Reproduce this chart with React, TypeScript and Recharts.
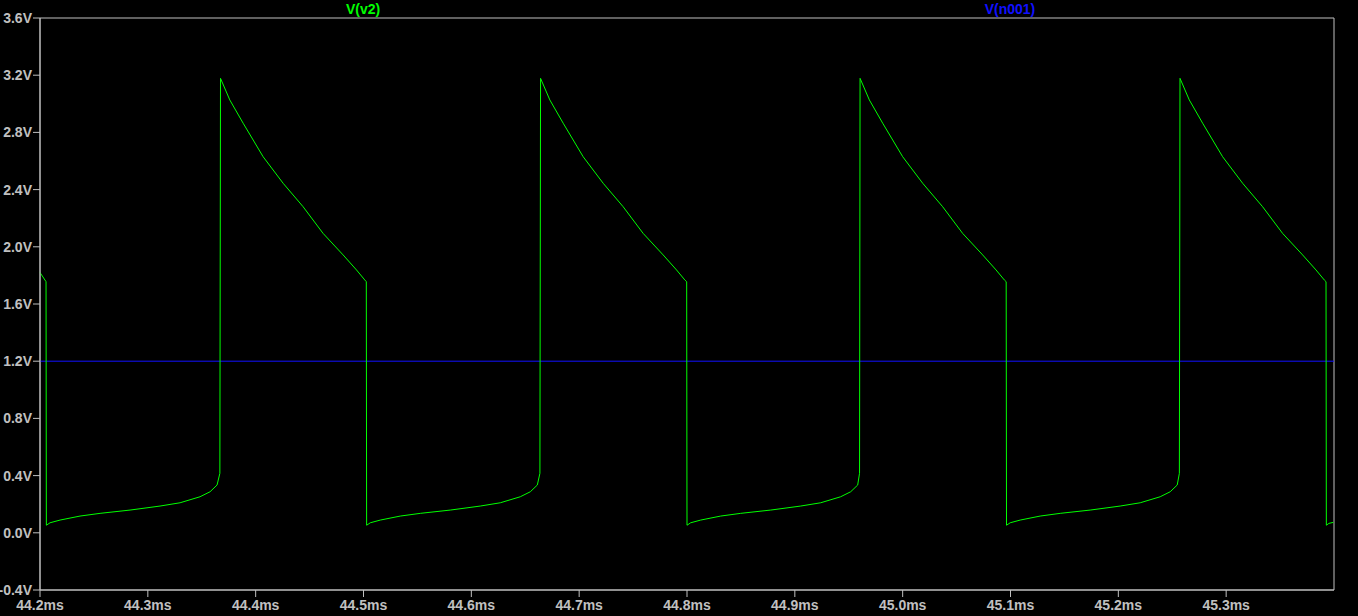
import { LineChart, Line, XAxis, YAxis, CartesianGrid } from "recharts";

// V(v2) transient, time in ms, volts
const v2Time = [
  44.2, 44.2056, 44.2059, 44.2093, 44.2186, 44.2371, 44.2557, 44.2835, 44.3113, 44.3299, 44.3484, 44.3577, 44.3642, 44.3668,
  44.3674, 44.376, 44.3884, 44.4069, 44.4255, 44.444, 44.4625, 44.4811, 44.4935, 44.5012, 44.5026,
  44.5029, 44.5063, 44.5156, 44.5341, 44.5527, 44.5805, 44.6083, 44.6269, 44.6454, 44.6547, 44.6612, 44.6636,
  44.6642, 44.6728, 44.6852, 44.7037, 44.7223, 44.7408, 44.7593, 44.7779, 44.7903, 44.798, 44.7997,
  44.8, 44.8034, 44.8127, 44.8312, 44.8498, 44.8776, 44.9054, 44.924, 44.9425, 44.9518, 44.9583, 44.96,
  44.9605, 44.9691, 44.9815, 45.0, 45.0186, 45.0371, 45.0556, 45.0742, 45.0866, 45.0943, 45.096,
  45.0963, 45.0997, 45.109, 45.1275, 45.1461, 45.1739, 45.2017, 45.2203, 45.2388, 45.2481, 45.2546, 45.2566,
  45.2572, 45.2658, 45.2782, 45.2967, 45.3153, 45.3338, 45.3523, 45.3709, 45.3833, 45.391, 45.3926,
  45.3929, 45.3953, 45.3994,
];
const v2Volts = [
  1.82, 1.756, 0.053, 0.07, 0.089, 0.117, 0.136, 0.159, 0.187, 0.21, 0.252, 0.287, 0.334, 0.416,
  3.178, 3.027, 2.864, 2.63, 2.444, 2.28, 2.094, 1.943, 1.838, 1.768, 1.756,
  0.053, 0.07, 0.089, 0.117, 0.136, 0.159, 0.187, 0.21, 0.252, 0.287, 0.334, 0.416,
  3.178, 3.027, 2.864, 2.63, 2.444, 2.28, 2.094, 1.943, 1.838, 1.768, 1.756,
  0.053, 0.07, 0.089, 0.117, 0.136, 0.159, 0.187, 0.21, 0.252, 0.287, 0.334, 0.416,
  3.178, 3.027, 2.864, 2.63, 2.444, 2.28, 2.094, 1.943, 1.838, 1.768, 1.756,
  0.053, 0.07, 0.089, 0.117, 0.136, 0.159, 0.187, 0.21, 0.252, 0.287, 0.334, 0.416,
  3.178, 3.027, 2.864, 2.63, 2.444, 2.28, 2.094, 1.943, 1.838, 1.768, 1.756,
  0.053, 0.066, 0.073,
];

// V(n001) sits flat at 1.2V
const n001Time = [44.2, 45.4];
const n001Volts = [1.2, 1.2];

const xTicks = [44.2, 44.3, 44.4, 44.5, 44.6, 44.7, 44.8, 44.9, 45.0, 45.1, 45.2, 45.3];
const yTicks = [-0.4, 0, 0.4, 0.8, 1.2, 1.6, 2.0, 2.4, 2.8, 3.2, 3.6];

const v2Data = v2Time.map((t, i) => ({ t, v: v2Volts[i] }));
const n001Data = n001Time.map((t, i) => ({ t, v: n001Volts[i] }));

const grey = "#c0c0c0";
const font = "'Liberation Sans', Arial, sans-serif";

export default function App() {
  return (
    <div style={{ position: "fixed", inset: 0, background: "#000", fontFamily: font }}>
      <span
        style={{
          position: "absolute",
          left: 363,
          top: 1,
          transform: "translateX(-50%)",
          color: "#00ff00",
          fontSize: 14,
          fontWeight: "bold",
        }}
      >
        V(v2)
      </span>
      <span
        style={{
          position: "absolute",
          left: 1010,
          top: 1,
          transform: "translateX(-50%)",
          color: "#1010ff",
          fontSize: 14,
          fontWeight: "bold",
        }}
      >
        V(n001)
      </span>
      <LineChart
        width={1358}
        height={616}
        margin={{ top: 18, right: 24, bottom: 0, left: 0 }}
        style={{ position: "absolute", left: 0, top: 0 }}
      >
        <CartesianGrid
          stroke={grey}
          horizontalCoordinatesGenerator={({ offset }: any) => [offset.top, offset.top + offset.height]}
          verticalCoordinatesGenerator={({ offset }: any) => [offset.left, offset.left + offset.width]}
        />
        <XAxis
          dataKey="t"
          type="number"
          domain={[44.2, 45.4]}
          ticks={xTicks}
          tickFormatter={(v: number) => v.toFixed(1) + "ms"}
          height={26}
          stroke={grey}
          tickSize={7}
          tickMargin={3}
          tick={{ fill: grey, fontSize: 14, fontWeight: "bold", fontFamily: font }}
          allowDuplicatedCategory={false}
        />
        <YAxis
          type="number"
          domain={[-0.4, 3.6]}
          ticks={yTicks}
          tickFormatter={(v: number) => v.toFixed(1) + "V"}
          width={40}
          stroke={grey}
          tickSize={7}
          tickMargin={1}
          tick={{ fill: grey, fontSize: 14, fontWeight: "bold", fontFamily: font }}
        />
        <Line
          data={n001Data}
          dataKey="v"
          type="linear"
          stroke="#1010ff"
          strokeWidth={1}
          dot={false}
          isAnimationActive={false}
        />
        <Line
          data={v2Data}
          dataKey="v"
          type="linear"
          stroke="#00ff00"
          strokeWidth={1}
          dot={false}
          isAnimationActive={false}
        />
      </LineChart>
    </div>
  );
}
